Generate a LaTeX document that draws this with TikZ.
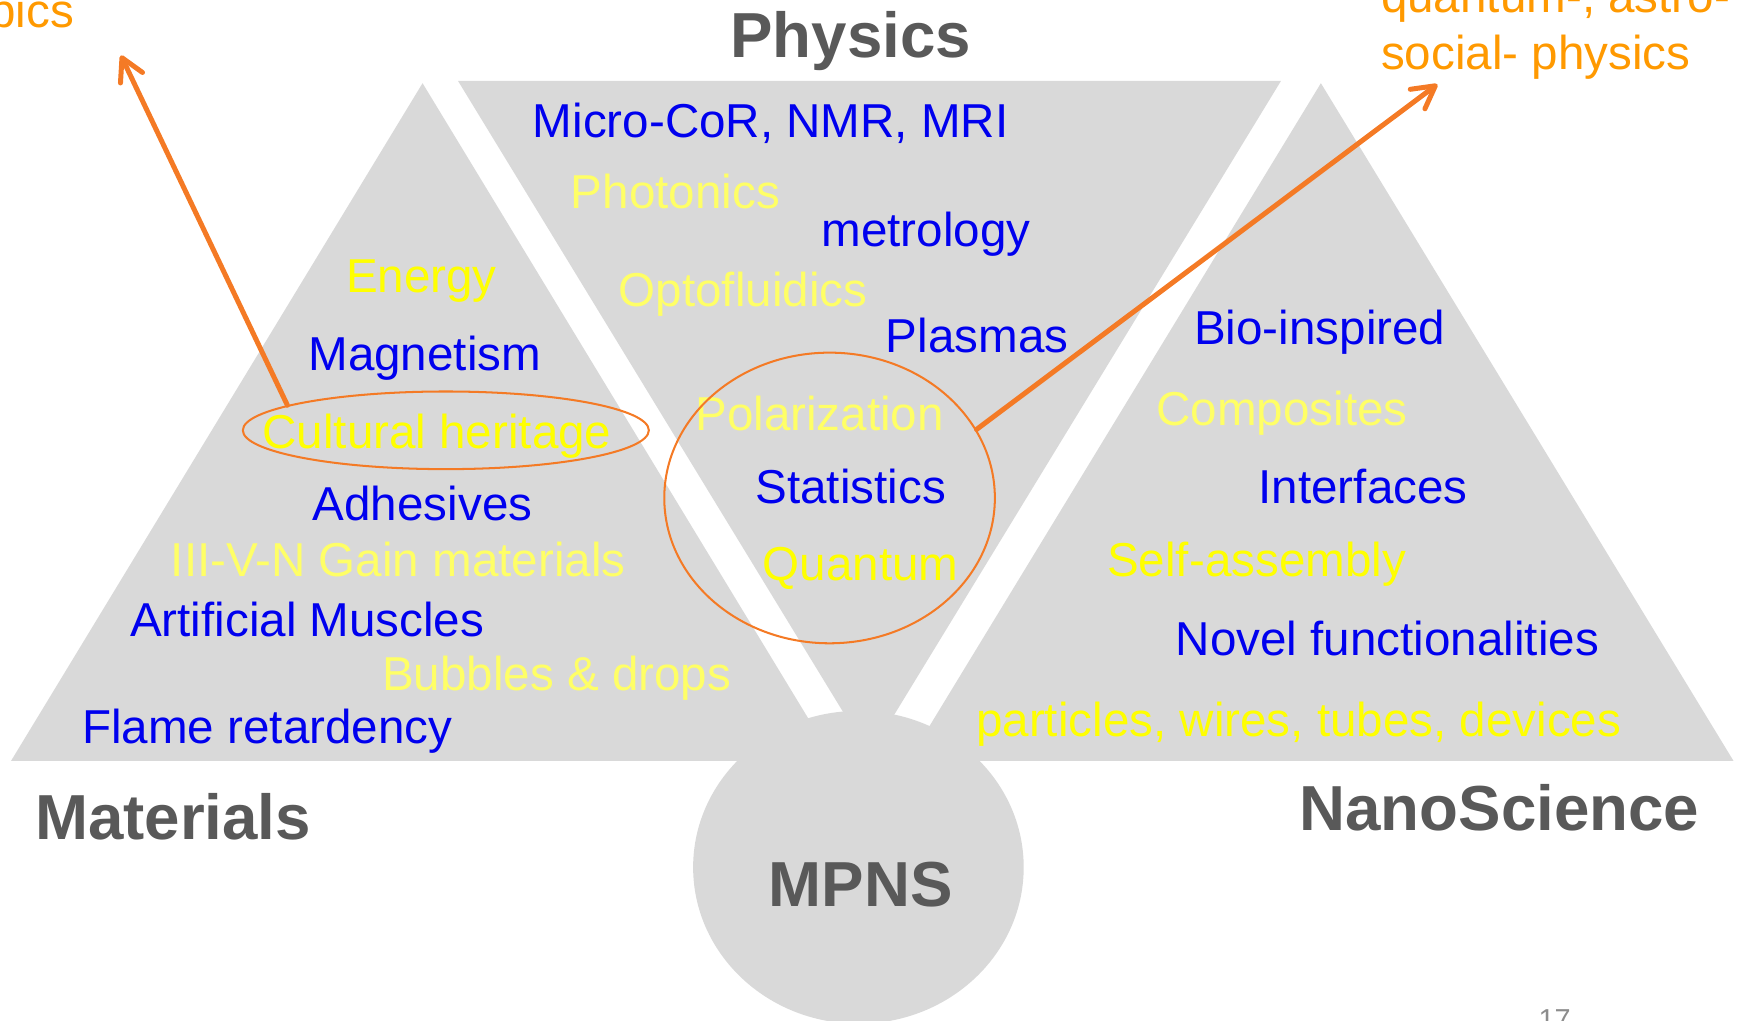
\documentclass[tikz,border=0pt]{standalone}
\usepackage{fontspec}
\setmainfont{Liberation Sans}
\usepackage{xcolor}
\usetikzlibrary{shapes.geometric, arrows.meta}

\definecolor{panelgray}{HTML}{D9D9D9}
\definecolor{titlegray}{HTML}{595959}
\definecolor{itemblue}{HTML}{0000EE}
\definecolor{itemyellow}{HTML}{FFFF00}
\definecolor{paleyellow}{HTML}{FFFF66}
\definecolor{ringorange}{HTML}{F47A25}
\definecolor{noteorange}{HTML}{FF9900}
\definecolor{pagegray}{HTML}{8C8C8C}

\begin{document}
\begin{tikzpicture}[
        x=0.025cm, y=-0.025cm,
        item/.style={anchor=base, inner sep=0pt, font=\fontsize{30.5}{36}\selectfont},
        blueitem/.style={item, text=itemblue},
        yellowitem/.style={item, text=itemyellow},
        paleitem/.style={item, text=paleyellow},
        field/.style={anchor=base, inner sep=0pt, text=titlegray, font=\fontsize{40.8}{48}\selectfont\bfseries},
        ring/.style={ellipse, draw=ringorange, line width=1.3pt, inner sep=0pt},
        pointer/.style={-{Straight Barb[length=5mm, width=5.5mm, round]}, draw=ringorange, line width=3.2pt, line cap=round},
        note/.style={anchor=base west, inner sep=0pt, text=noteorange, font=\fontsize{30.5}{36}\selectfont}
    ]
        \useasboundingbox (0,0) rectangle (1568,920);
        \clip (0,0) rectangle (1568,920);

        % Panels
        \fill[panelgray] (10,686) -- (381,75) -- (752,686) -- cycle;
        \fill[panelgray] (413,73) -- (1155,73) -- (784,681) -- cycle;
        \fill[panelgray] (819,686) -- (1191,75) -- (1563,686) -- cycle;
        \node[ellipse, fill=panelgray, minimum width=7.45cm, minimum height=7.05cm, inner sep=0pt] (mpns_disc) at (774,782) {};

        % Field names
        \node[field] (physics) at (767,52) {Physics};
        \node[field] (materials) at (156,757) {Materials};
        \node[field] (nanoscience) at (1352,749) {NanoScience};
        \node[field] (mpns) at (776,817) {MPNS};

        % Materials items
        \node[yellowitem] (energy) at (380,264) {Energy};
        \node[blueitem] (magnetism) at (383,334) {Magnetism};
        \node[yellowitem] (heritage) at (394,404) {Cultural heritage};
        \node[blueitem] (adhesives) at (381,469) {Adhesives};
        \node[paleitem] (gain) at (359,520) {III-V-N Gain materials};
        \node[blueitem] (muscles) at (277,574) {Artificial Muscles};
        \node[paleitem] (bubbles) at (502,623) {Bubbles \& drops};
        \node[blueitem] (flame) at (241,670) {Flame retardency};

        % Physics items
        \node[blueitem] (micro) at (695,124) {Micro-CoR, NMR, MRI};
        \node[paleitem] (photonics) at (609,188) {Photonics};
        \node[blueitem] (metrology) at (835,222) {metrology};
        \node[paleitem] (optofluidics) at (670,276) {Optofluidics};
        \node[blueitem] (plasmas) at (881,318) {Plasmas};
        \node[paleitem] (polarization) at (739,388) {Polarization};
        \node[blueitem] (statistics) at (767,454) {Statistics};
        \node[yellowitem] (quantum) at (776,523) {Quantum};

        % NanoScience items
        \node[blueitem] (bio) at (1190,311) {Bio-inspired};
        \node[paleitem] (composites) at (1156,384) {Composites};
        \node[blueitem] (interfaces) at (1229,454) {Interfaces};
        \node[yellowitem] (selfassembly) at (1133,520) {Self-assembly};
        \node[blueitem] (novel) at (1251,591) {Novel functionalities};
        \node[yellowitem] (particles) at (1171,664) {particles, wires, tubes, devices};

        % Rings and pointers
        \node[ring, minimum width=9.15cm, minimum height=1.75cm] (heritage_ring) at (402,388) {};
        \node[ring, minimum width=7.45cm, minimum height=6.55cm] (stats_ring) at (748,449) {};
        \coordinate (left_tip) at (109,50);
        \coordinate (right_tip) at (1296,76);
        \draw[pointer] (heritage_ring.171) -- (left_tip);
        \draw[pointer] (stats_ring.25) -- (right_tip);

        % Notes at the edges
        \node[note] (pics) at (-10,25) {pics};
        \node[note] (quantum_note) at (1245,11) {quantum-, astro-};
        \node[note] (social_note) at (1245,63) {social- physics};
        \node[anchor=base west, inner sep=0pt, text=pagegray, font=\fontsize{18.5}{22}\selectfont] (page_no) at (1387,928) {17};
    \end{tikzpicture}
\end{document}
